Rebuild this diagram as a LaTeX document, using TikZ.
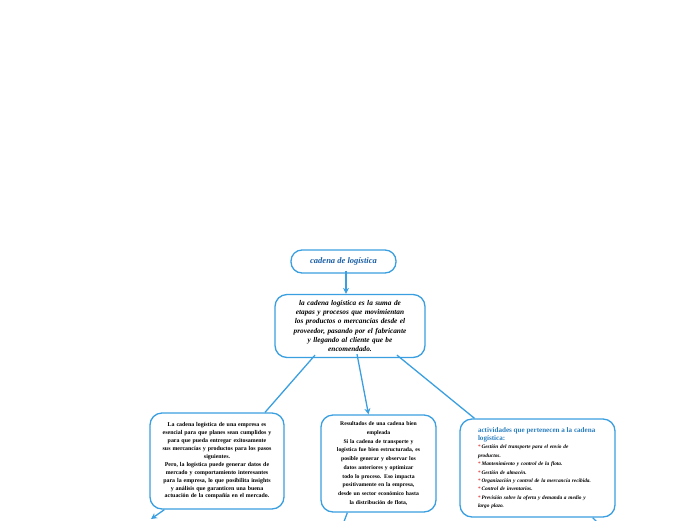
\documentclass[tikz,border=0pt]{standalone}
\usepackage{fontspec}
\setmainfont{Liberation Serif}
\usetikzlibrary{calc,arrows.meta}
\definecolor{bord}{HTML}{3A9FE0}
\definecolor{ttl}{HTML}{1B5FA6}
\definecolor{rttl}{HTML}{2A7FC0}
\definecolor{bul}{HTML}{E03A3A}
\tikzset{
  box/.style={draw=bord, line width=1.3pt, rounded corners=12pt, fill=white, inner sep=0pt, align=center},
  conn/.style={draw=bord, line width=1.3pt},
  arr/.style={conn, -{Stealth[length=6pt,width=6pt]}},
}
\newcommand{\bl}{{\color{bul}\upshape *}\,}
\begin{document}
\begin{tikzpicture}[x=1pt,y=-1pt]
\useasboundingbox (0,0) rectangle (696,520);
\clip (0,0) rectangle (696,520);
\node[box, rounded corners=11pt, minimum width=105pt, minimum height=23pt, text=ttl,
  font=\fontsize{8.5}{9}\selectfont\bfseries\itshape] (title) at (343.5,261.5) {cadena de logística};
\node[box, minimum width=150pt, minimum height=63pt, text width=145pt,
  font=\fontsize{7.3}{9.2}\selectfont\bfseries\itshape] (main) at (350,326)
  {la cadena logística es la suma de\\ etapas y procesos que movimientan\\ los productos o mercancías desde el\\ proveedor, pasando por el fabricante\\ y llegando al cliente que be\\ encomendado.};
\node[box, minimum width=134pt, minimum height=96pt, text width=130pt,
  font=\fontsize{5.9}{7.9}\selectfont\bfseries] (left) at (217,461)
  {La cadena logística de una empresa es\\ esencial para que planes sean cumplidos y\\ para que pueda entregar exitosamente\\ sus mercancías y productos para los pasos\\ siguientes.\\ Pero, la logística puede generar datos de\\ mercado y comportamiento interesantes\\ para la empresa, lo que posibilita insights\\ y análisis que garanticen una buena\\ actuación de la compañía en el mercado.};
\node[box, minimum width=115pt, minimum height=97pt, text width=112pt,
  font=\fontsize{5.7}{8.7}\selectfont\bfseries] (mid) at (378.5,463.5)
  {Resultados de una cadena bien\\ empleada\\ Si la cadena de transporte y\\ logística fue bien estructurada, es\\ posible generar y observar los\\ datos anteriores y optimizar\\ todo lo proceso. Eso impacta\\ positivamente en la empresa,\\ desde un sector económico hasta\\ la distribución de flota,};
\node[box, minimum width=155pt, minimum height=98pt, text width=119pt, align=left,
  font=\fontsize{5.3}{8.4}\selectfont\bfseries\itshape] (right) at (537.5,468)
  {{\upshape\fontsize{7.1}{9.2}\selectfont\color{rttl}actividades que pertenecen a la cadena\\ logística:}\\
  \bl Gestión del transporte para el envío de\\ productos.\\
  \bl Mantenimiento y control de la flota.\\
  \bl Gestión de almacén.\\
  \bl Organización y control de la mercancía recibida.\\
  \bl Control de inventarios.\\
  \bl Previsión sobre la oferta y demanda a medio y\\ largo plazo.};
% connectors
\draw[arr] ($(title.south)+(2.5,-3)$) -- ($(main.north)+(-4,0)$);
\draw[conn] ($(main.south)+(-35,-3)$) -- ($(left.north)+(48,0)$);
\draw[arr] ($(main.south)+(7,-4)$) -- ($(mid.north)+(-10,0)$);
\draw[conn] ($(main.south)+(47,-3)$) -- ($(right.north)+(-63,0)$);
\coordinate (lt) at (151,519);
\coordinate (mt) at (342,527);
\coordinate (rt) at (600,525);
\draw[arr] ($(left.south west)+(15,0)$) -- (lt);
\draw[conn] ($(mid.south west)+(27,0)$) -- (mt);
\draw[conn] ($(right.south east)+(-23,0)$) -- (rt);
\end{tikzpicture}
\end{document}
